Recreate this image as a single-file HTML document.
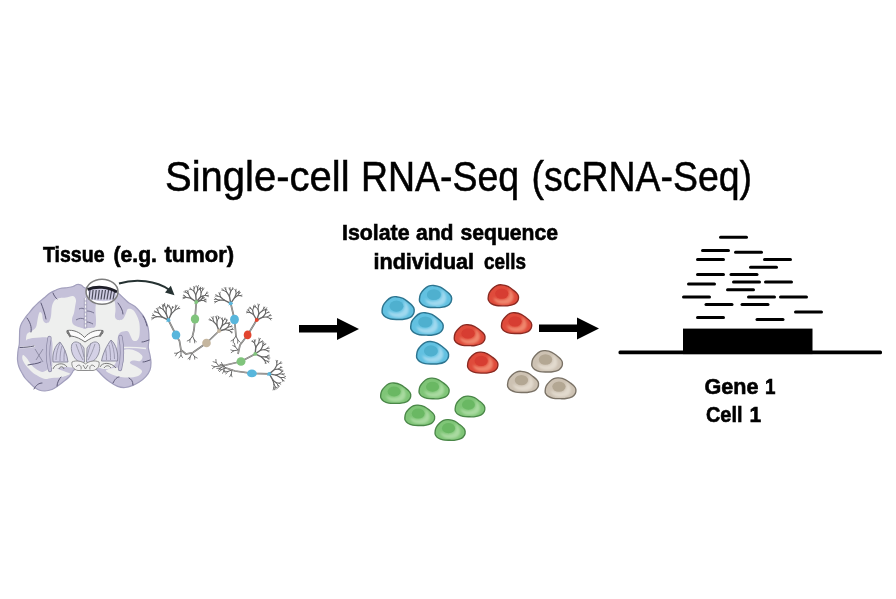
<!DOCTYPE html>
<html><head><meta charset="utf-8">
<style>
html,body{margin:0;padding:0;background:#fff;}
body{width:896px;height:599px;overflow:hidden;position:relative;font-family:"Liberation Sans",sans-serif;}
svg{position:absolute;left:0;top:0;filter:blur(0.45px);}
</style></head><body>
<svg width="896" height="599" viewBox="0 0 896 599">
<defs>
 <path id="cellp" d="M14.8,0.2 C16.9,0.4 19.7,1.0 21.8,2.0 C23.9,3.0 25.9,4.7 27.6,6.0 C29.3,7.3 30.9,8.7 31.8,9.9 C32.8,11.1 33.2,12.0 33.3,13.3 C33.4,14.6 33.3,16.3 32.6,17.6 C31.9,18.9 30.9,20.3 29.2,21.2 C27.5,22.1 24.8,22.8 22.6,23.1 C20.5,23.5 18.6,23.3 16.3,23.3 C14.0,23.3 11.1,23.4 9.0,22.9 C6.9,22.5 5.0,21.7 3.6,20.8 C2.2,19.9 1.2,18.5 0.6,17.4 C0.0,16.3 0.1,15.8 0.2,14.4 C0.3,13.0 0.5,10.9 1.3,9.2 C2.1,7.5 3.6,5.7 5.0,4.3 C6.4,2.9 7.9,1.7 9.5,1.0 C11.1,0.3 12.8,0.0 14.8,0.2 Z"/>
 <filter id="bl" x="-30%" y="-30%" width="160%" height="160%"><feGaussianBlur stdDeviation="1.3"/></filter>
 <filter id="bl2" x="-30%" y="-30%" width="160%" height="160%"><feGaussianBlur stdDeviation="0.5"/></filter>
 <clipPath id="cellclip"><use href="#cellp"/></clipPath>
 <g id="cellB">
  <use href="#cellp" fill="#62c1e1"/>
  <g clip-path="url(#cellclip)"><path d="M6,14 C7,20 13,22 19,21.5 C25,21 29,17 27.5,11 C26.5,7.5 24,5 22,4.5 C24,8 24,13 20,15.5 C16,17.5 10,17 6,14 Z" fill="#a0d9ef" filter="url(#bl)"/>
  <ellipse cx="15" cy="9.8" rx="7.2" ry="5.7" fill="#4fb0cf" filter="url(#bl2)"/></g>
  <use href="#cellp" fill="none" stroke="#2d7590" stroke-width="1.5"/>
 </g>
 <g id="cellR">
  <use href="#cellp" fill="#df4b3b"/>
  <g clip-path="url(#cellclip)"><path d="M6,14 C7,20 13,22 19,21.5 C25,21 29,17 27.5,11 C26.5,7.5 24,5 22,4.5 C24,8 24,13 20,15.5 C16,17.5 10,17 6,14 Z" fill="#ef866d" filter="url(#bl)"/>
  <ellipse cx="15" cy="9.8" rx="7.2" ry="5.7" fill="#d73d30" filter="url(#bl2)"/></g>
  <use href="#cellp" fill="none" stroke="#8a2a22" stroke-width="1.5"/>
 </g>
 <g id="cellT">
  <use href="#cellp" fill="#cdc2b3"/>
  <g clip-path="url(#cellclip)"><path d="M6,14 C7,20 13,22 19,21.5 C25,21 29,17 27.5,11 C26.5,7.5 24,5 22,4.5 C24,8 24,13 20,15.5 C16,17.5 10,17 6,14 Z" fill="#e2dace" filter="url(#bl)"/>
  <ellipse cx="15" cy="9.8" rx="7.2" ry="5.7" fill="#b3a793" filter="url(#bl2)"/></g>
  <use href="#cellp" fill="none" stroke="#7a7266" stroke-width="1.5"/>
 </g>
 <g id="cellG">
  <use href="#cellp" fill="#7fc577"/>
  <g clip-path="url(#cellclip)"><path d="M6,14 C7,20 13,22 19,21.5 C25,21 29,17 27.5,11 C26.5,7.5 24,5 22,4.5 C24,8 24,13 20,15.5 C16,17.5 10,17 6,14 Z" fill="#a9daa0" filter="url(#bl)"/>
  <ellipse cx="15" cy="9.8" rx="7.2" ry="5.7" fill="#6ab864" filter="url(#bl2)"/></g>
  <use href="#cellp" fill="none" stroke="#4a8748" stroke-width="1.5"/>
 </g>
</defs>

<text x="165.0" y="190.8" font-family="Liberation Sans" font-weight="normal" font-size="42.2" fill="#000" stroke="#000" stroke-width="0.50" textLength="184.6" lengthAdjust="spacingAndGlyphs">Single-cell</text>
<text x="361.0" y="190.8" font-family="Liberation Sans" font-weight="normal" font-size="42.2" fill="#000" stroke="#000" stroke-width="0.50" textLength="158.1" lengthAdjust="spacingAndGlyphs">RNA-Seq</text>
<text x="531.5" y="190.8" font-family="Liberation Sans" font-weight="normal" font-size="42.2" fill="#000" stroke="#000" stroke-width="0.50" textLength="220.5" lengthAdjust="spacingAndGlyphs">(scRNA-Seq)</text>
<text x="43.0" y="261.9" font-family="Liberation Sans" font-weight="bold" font-size="21.4" fill="#000" stroke="#000" stroke-width="0.60" textLength="61.5" lengthAdjust="spacingAndGlyphs">Tissue</text>
<text x="113.5" y="261.9" font-family="Liberation Sans" font-weight="bold" font-size="21.4" fill="#000" stroke="#000" stroke-width="0.60" textLength="43.5" lengthAdjust="spacingAndGlyphs">(e.g.</text>
<text x="164.5" y="261.9" font-family="Liberation Sans" font-weight="bold" font-size="21.4" fill="#000" stroke="#000" stroke-width="0.60" textLength="69.5" lengthAdjust="spacingAndGlyphs">tumor)</text>
<text x="342.0" y="239.8" font-family="Liberation Sans" font-weight="bold" font-size="21.4" fill="#000" stroke="#000" stroke-width="0.60" textLength="67.5" lengthAdjust="spacingAndGlyphs">Isolate</text>
<text x="416.0" y="239.8" font-family="Liberation Sans" font-weight="bold" font-size="21.4" fill="#000" stroke="#000" stroke-width="0.60" textLength="37.5" lengthAdjust="spacingAndGlyphs">and</text>
<text x="460.5" y="239.8" font-family="Liberation Sans" font-weight="bold" font-size="21.4" fill="#000" stroke="#000" stroke-width="0.60" textLength="97.5" lengthAdjust="spacingAndGlyphs">sequence</text>
<text x="373.5" y="268.9" font-family="Liberation Sans" font-weight="bold" font-size="21.4" fill="#000" stroke="#000" stroke-width="0.60" textLength="100.5" lengthAdjust="spacingAndGlyphs">individual</text>
<text x="484.0" y="268.9" font-family="Liberation Sans" font-weight="bold" font-size="21.4" fill="#000" stroke="#000" stroke-width="0.60" textLength="42.0" lengthAdjust="spacingAndGlyphs">cells</text>
<text x="704.5" y="394.4" font-family="Liberation Sans" font-weight="bold" font-size="22.2" fill="#000" stroke="#000" stroke-width="0.60" textLength="54.0" lengthAdjust="spacingAndGlyphs">Gene</text>
<text x="765.0" y="394.4" font-family="Liberation Sans" font-weight="bold" font-size="22.2" fill="#000" stroke="#000" stroke-width="0.60" textLength="10.5" lengthAdjust="spacingAndGlyphs">1</text>
<text x="706.0" y="422.2" font-family="Liberation Sans" font-weight="bold" font-size="22.2" fill="#000" stroke="#000" stroke-width="0.60" textLength="36.5" lengthAdjust="spacingAndGlyphs">Cell</text>
<text x="749.5" y="422.2" font-family="Liberation Sans" font-weight="bold" font-size="22.2" fill="#000" stroke="#000" stroke-width="0.60" textLength="11.7" lengthAdjust="spacingAndGlyphs">1</text>

<!-- arrows -->
<path d="M299,325 L337,325 L337,318 L359,329 L337,340 L337,332.5 L299,332.5 Z" fill="#000"/>
<path d="M539,324.5 L577,324.5 L577,317.5 L599,328.5 L577,339.5 L577,332 L539,332 Z" fill="#000"/>

<!-- gene -->
<rect x="618.5" y="350.5" width="263.5" height="3.8" rx="1.5" fill="#000"/>
<rect x="683" y="328.6" width="129.5" height="25.5" fill="#000"/>
<g stroke="#000" stroke-width="3" stroke-linecap="round">
<line x1="720.5" y1="237.3" x2="746.5" y2="237.3"/>
<line x1="702.5" y1="250.5" x2="728.5" y2="250.5"/>
<line x1="735.5" y1="252.2" x2="761.5" y2="252.2"/>
<line x1="697.5" y1="259.5" x2="723.5" y2="259.5"/>
<line x1="764.5" y1="259.5" x2="790.5" y2="259.5"/>
<line x1="750.5" y1="267.2" x2="776.5" y2="267.2"/>
<line x1="697.5" y1="274.6" x2="723.5" y2="274.6"/>
<line x1="731" y1="274.6" x2="757" y2="274.6"/>
<line x1="733.5" y1="282.1" x2="759.5" y2="282.1"/>
<line x1="765.5" y1="282.1" x2="791.5" y2="282.1"/>
<line x1="688.5" y1="284.1" x2="714.5" y2="284.1"/>
<line x1="727.5" y1="289.7" x2="753.5" y2="289.7"/>
<line x1="683.5" y1="297" x2="709.5" y2="297"/>
<line x1="748.5" y1="297" x2="774.5" y2="297"/>
<line x1="780.5" y1="297" x2="806.5" y2="297"/>
<line x1="706" y1="304.5" x2="732" y2="304.5"/>
<line x1="742" y1="304.5" x2="768" y2="304.5"/>
<line x1="795.5" y1="311.9" x2="821.5" y2="311.9"/>
<line x1="697.5" y1="317.4" x2="723.5" y2="317.4"/>
<line x1="757" y1="319.6" x2="783" y2="319.6"/>
</g>

<path d="M84.0,287.5 C83.2,287.0 82.2,285.5 81.0,285.0 C79.8,284.5 78.3,284.2 77.0,284.5 C75.7,284.8 74.5,286.0 73.0,286.5 C71.5,287.0 70.2,287.2 68.0,287.5 C65.8,287.8 62.2,288.0 60.0,288.5 C57.8,289.0 56.7,289.8 55.0,290.5 C53.3,291.2 51.8,291.8 50.0,293.0 C48.2,294.2 46.0,296.3 44.0,298.0 C42.0,299.7 39.8,301.3 38.0,303.0 C36.2,304.7 34.5,306.3 33.0,308.0 C31.5,309.7 30.3,311.3 29.0,313.0 C27.7,314.7 26.2,316.2 25.0,318.0 C23.8,319.8 22.4,321.7 21.5,323.5 C20.6,325.3 20.1,326.8 19.8,329.0 C19.5,331.2 19.6,334.5 19.5,337.0 C19.4,339.5 19.5,342.0 19.3,344.0 C19.1,346.0 18.6,347.5 18.3,349.0 C18.1,350.5 17.9,351.2 17.8,353.0 C17.7,354.8 17.3,357.7 17.5,360.0 C17.7,362.3 18.2,364.8 19.0,367.0 C19.8,369.2 21.0,371.2 22.0,373.0 C23.0,374.8 23.7,376.3 25.0,378.0 C26.3,379.7 28.5,381.5 30.0,383.0 C31.5,384.5 32.5,385.8 34.0,387.0 C35.5,388.2 37.2,389.3 39.0,390.0 C40.8,390.7 42.8,391.1 45.0,391.0 C47.2,390.9 50.0,390.2 52.0,389.5 C54.0,388.8 55.2,387.8 57.0,386.5 C58.8,385.2 61.0,383.6 63.0,382.0 C65.0,380.4 67.5,378.5 69.0,377.0 C70.5,375.5 71.2,374.2 72.0,373.0 C72.8,371.8 72.8,370.7 74.0,370.0 C75.2,369.3 77.2,369.0 79.0,369.0 C80.8,369.0 83.0,370.0 85.0,370.0 C87.0,370.0 89.2,369.1 91.0,369.0 C92.8,368.9 94.8,369.1 96.0,369.5 C97.2,369.9 97.2,370.3 98.5,371.5 C99.8,372.7 101.6,374.9 103.5,376.7 C105.4,378.5 107.7,380.5 110.0,382.1 C112.3,383.7 115.1,385.5 117.6,386.4 C120.1,387.3 122.7,387.7 125.2,387.5 C127.7,387.3 130.5,386.3 132.8,385.4 C135.2,384.5 137.1,383.6 139.3,382.1 C141.5,380.7 144.0,378.7 145.8,376.7 C147.6,374.7 149.1,372.4 150.0,370.0 C150.9,367.6 151.0,365.1 151.0,362.6 C151.0,360.1 150.4,357.5 150.0,355.0 C149.6,352.5 148.5,350.1 148.3,347.4 C148.1,344.7 149.0,341.6 149.0,338.7 C149.0,335.8 148.8,332.4 148.5,330.0 C148.2,327.6 147.7,326.0 147.0,324.0 C146.3,322.0 145.5,319.8 144.5,318.0 C143.5,316.2 142.6,314.9 141.0,313.0 C139.4,311.1 137.0,308.2 135.0,306.5 C133.0,304.8 130.8,304.2 129.0,303.0 C127.2,301.8 126.3,300.7 124.5,299.0 C122.7,297.3 120.1,294.7 118.0,293.0 C115.9,291.3 114.3,289.9 112.0,289.0 C109.7,288.1 106.7,287.8 104.0,287.5 C101.3,287.2 98.3,287.1 96.0,287.0 C93.7,286.9 91.7,286.8 90.0,287.0 C88.3,287.2 87.0,287.9 86.0,288.0 C85.0,288.1 84.8,288.0 84.0,287.5 Z" fill="#c5c1d9" stroke="#a29fbd" stroke-width="1.2"/>
<path d="M26.0,341.0 C26.0,340.1 26.0,335.7 27.0,334.0 C28.0,332.3 30.5,332.2 32.0,331.0 C33.5,329.8 35.1,328.8 36.0,327.0 C36.9,325.2 37.1,322.0 37.5,320.0 C37.9,318.0 38.1,316.3 38.5,315.0 C38.9,313.7 39.4,312.2 40.0,312.0 C40.6,311.8 41.5,312.7 42.0,314.0 C42.5,315.3 42.4,318.5 43.0,320.0 C43.6,321.5 44.5,322.7 45.5,323.0 C46.5,323.3 48.1,323.2 49.0,322.0 C49.9,320.8 50.5,318.7 51.0,316.0 C51.5,313.3 51.3,308.7 52.0,306.0 C52.7,303.3 53.7,301.3 55.0,300.0 C56.3,298.7 58.2,298.4 60.0,298.0 C61.8,297.6 63.8,297.8 66.0,297.5 C68.2,297.2 71.3,295.6 73.0,296.0 C74.7,296.4 75.7,298.2 76.0,300.0 C76.3,301.8 75.3,304.8 75.0,307.0 C74.7,309.2 74.5,311.0 74.0,313.0 C73.5,315.0 72.2,317.2 72.0,319.0 C71.8,320.8 72.2,322.8 73.0,324.0 C73.8,325.2 75.5,325.8 77.0,326.5 C78.5,327.2 80.7,327.6 82.0,328.0 C83.3,328.4 84.0,329.0 85.0,329.0 C86.0,329.0 86.3,328.3 88.0,328.0 C89.7,327.7 93.7,328.3 95.0,327.0 C96.3,325.7 95.9,322.5 96.0,320.0 C96.1,317.5 95.5,314.7 95.5,312.0 C95.5,309.3 95.4,306.0 96.0,304.0 C96.6,302.0 97.2,300.8 99.0,300.0 C100.8,299.2 104.5,299.4 107.0,299.5 C109.5,299.6 112.6,298.9 114.0,300.5 C115.4,302.1 115.3,306.2 115.5,309.0 C115.7,311.8 114.6,315.2 115.0,317.0 C115.4,318.8 116.7,319.7 118.0,320.0 C119.3,320.3 121.7,320.2 123.0,319.0 C124.3,317.8 125.2,314.7 126.0,313.0 C126.8,311.3 126.8,309.5 128.0,309.0 C129.2,308.5 131.5,308.8 133.0,310.0 C134.5,311.2 135.9,313.7 137.0,316.0 C138.1,318.3 139.1,320.8 139.5,324.0 C139.9,327.2 139.9,332.2 139.5,335.0 C139.1,337.8 138.1,339.6 137.0,340.5 C135.9,341.4 134.1,341.2 133.0,340.5 C131.9,339.8 131.3,337.5 130.5,336.0 C129.7,334.5 129.2,332.2 128.0,331.5 C126.8,330.8 124.5,331.1 123.0,331.5 C121.5,331.9 119.9,332.6 119.0,334.0 C118.1,335.4 117.8,337.0 117.5,340.0 C117.2,343.0 117.2,348.3 117.0,352.0 C116.8,355.7 117.0,359.3 116.0,362.0 C115.0,364.7 113.0,366.8 111.0,368.0 C109.0,369.2 106.3,369.1 104.0,369.0 C101.7,368.9 100.2,367.7 97.0,367.5 C93.8,367.3 89.0,368.0 85.0,368.0 C81.0,368.0 76.5,367.7 73.0,367.5 C69.5,367.3 66.8,366.8 64.0,367.0 C61.2,367.2 57.9,368.7 56.0,369.0 C54.1,369.3 53.1,371.3 52.5,369.0 C51.9,366.7 52.6,359.7 52.5,355.0 C52.4,350.3 52.9,343.9 52.0,341.0 C51.1,338.1 49.0,338.1 47.0,337.5 C45.0,336.9 42.3,337.4 40.0,337.5 C37.7,337.6 35.2,337.7 33.0,338.0 C30.8,338.3 28.2,339.0 27.0,339.5 C25.8,340.0 26.0,341.9 26.0,341.0 Z" fill="#eeefee"/>
<path d="M124.0,350.0 C125.2,349.1 128.7,349.2 131.0,349.5 C133.3,349.8 136.1,350.8 138.0,352.0 C139.9,353.2 142.2,355.0 142.5,356.5 C142.8,358.0 141.6,360.3 140.0,361.0 C138.4,361.7 134.7,360.2 133.0,360.5 C131.3,360.8 129.3,361.9 130.0,363.0 C130.7,364.1 135.0,365.7 137.0,367.0 C139.0,368.3 141.7,369.6 142.0,371.0 C142.3,372.4 140.8,374.4 139.0,375.5 C137.2,376.6 134.0,377.2 131.0,377.5 C128.0,377.8 124.2,377.5 121.0,377.0 C117.8,376.5 114.5,375.6 112.0,374.5 C109.5,373.4 105.8,371.6 106.0,370.5 C106.2,369.4 110.7,368.6 113.0,368.0 C115.3,367.4 118.2,368.0 120.0,367.0 C121.8,366.0 122.9,364.0 123.5,362.0 C124.1,360.0 123.4,357.0 123.5,355.0 C123.6,353.0 122.8,350.9 124.0,350.0 Z" fill="#eeefee"/>
<path d="M23.0,355.0 C23.8,354.8 25.7,356.9 27.0,358.5 C28.3,360.1 29.5,362.8 31.0,364.5 C32.5,366.2 34.2,367.8 36.0,369.0 C37.8,370.2 40.2,371.8 42.0,372.0 C43.8,372.2 45.3,371.0 47.0,370.0 C48.7,369.0 50.2,366.2 52.0,366.0 C53.8,365.8 55.7,368.0 58.0,369.0 C60.3,370.0 64.0,371.2 66.0,372.0 C68.0,372.8 70.7,373.2 70.0,374.0 C69.3,374.8 65.0,376.3 62.0,377.0 C59.0,377.7 54.8,377.7 52.0,378.0 C49.2,378.3 47.3,379.3 45.0,379.0 C42.7,378.7 40.2,377.2 38.0,376.0 C35.8,374.8 34.0,373.8 32.0,372.0 C30.0,370.2 27.6,367.6 26.0,365.5 C24.4,363.4 23.0,361.2 22.5,359.5 C22.0,357.8 22.2,355.2 23.0,355.0 Z" fill="#eeefee"/>
<path d="M124,347.5 C130,347 138,347.5 146,348.5" stroke="#eeefee" stroke-width="1.3" fill="none"/>
<path d="M20,347.5 C25,347.5 31,347 35,346" stroke="#eeefee" stroke-width="1.3" fill="none"/>
<path d="M85.5,298 L85.5,328" stroke="#f4f4f4" stroke-width="1.6" stroke-dasharray="2.2,1.6"/>
<path d="M84.3,298 L84.3,328 M86.7,298 L86.7,328" stroke="#8a88a2" stroke-width="0.5"/>
<g stroke="#6b6986" stroke-width="0.9" fill="none"><path d="M76,320 C79,318 82,318 84,319"/><path d="M79,309 C81,308 83,308 84,309"/><path d="M87,311 C90,311 92,312 94,313"/><path d="M87,322 C89,322 91,323 93,324"/></g>
<path d="M67,330.5 C73,329.5 80,332 84.5,337.5 C89,332 96,329.5 103,330.5 C103.5,333 102,335.5 99,336 C94,336.5 89,339 85,342 C81,339 76,336.5 71,336 C68,335.5 66.5,333 67,330.5 Z" fill="#fbfbfb" stroke="#6f6f6f" stroke-width="1"/>
<path d="M67.5,331 L70.5,337 M102.5,331 L99.5,336.5" stroke="#777" stroke-width="2" fill="none"/>
<path d="M72,344 C75,340 80,342 84,348 L84.5,362 C80,364 75,360 72.5,354 C71,350 71,347 72,344 Z" fill="#d4d1e6" stroke="#8a8a9a" stroke-width="0.9"/>
<path d="M99,344 C96,340 91,342 87,348 L86.5,362 C91,364 96,360 98.5,354 C100,350 100,347 99,344 Z" fill="#d4d1e6" stroke="#8a8a9a" stroke-width="0.9"/>
<path d="M76,344 C78,350 80,355 83,360 M80,343 C82,348 83,353 84,357 M95,344 C93,350 91,355 88,360 M91,343 C89,348 88,353 87,357" stroke="#8f8fa0" stroke-width="0.8" fill="none"/>
<path d="M72,362 C76,360 82,361 85.5,364 C89,361 95,360 99,362 C100,366 97,370 93,370.5 L78,370.5 C74,370 71,366 72,362 Z" fill="#f2f2f2" stroke="#777" stroke-width="0.8"/>
<path d="M76,367 C79,363 82,366 81,369.5 M90,369.5 C89,366 92,363 95,367 M83,365 L85.5,369 L88,365" stroke="#6f6f6f" stroke-width="0.8" fill="none"/>
<path d="M53,362 C52,354 55,345 60,342 C64,347 67,354 68,362 Z" fill="#d0cde4" stroke="#858399" stroke-width="0.9"/>
<path d="M117.5,361 C118.5,353 116,344 111,340 C107,345 103,353 101.5,361 Z" fill="#d0cde4" stroke="#858399" stroke-width="0.9"/>
<path d="M56,360 C56,353 58,347 60,343 M60,361 C60,354 61,349 62,346 M64,361 C64,356 64,352 65,350 M114.5,359 C114.5,352 113,346 111,341 M110.5,360 C110.5,353 110,348 109,345 M106.5,360 C106.5,355 106,351 105.5,349" stroke="#8c8aa0" stroke-width="0.75" fill="none"/>
<path d="M49.5,338 C47.5,348 47.5,360 50,370" stroke="#8a87a4" stroke-width="4.2" fill="none" stroke-linecap="round"/>
<path d="M49.5,338 C47.5,348 47.5,360 50,370" stroke="#c5c1d9" stroke-width="2.8" fill="none" stroke-linecap="round"/>
<path d="M120.5,337 C122.5,347 122.5,359 120,369" stroke="#8a87a4" stroke-width="4.2" fill="none" stroke-linecap="round"/>
<path d="M120.5,337 C122.5,347 122.5,359 120,369" stroke="#c5c1d9" stroke-width="2.8" fill="none" stroke-linecap="round"/>
<path d="M53,369 C55,363 64,362 67,367 M59,369 C60,366 63,366 64,369 M100,367 C102,362 111,362 116,368 M104,368 C106,365 109,365 111,368" stroke="#6f6f6f" stroke-width="0.9" fill="none"/>
<path d="M35,349 L43,362 M43,349 L36,360" stroke="#7a7890" stroke-width="0.7" fill="none"/>
<g stroke="#5e5b78" stroke-width="1" fill="none" stroke-linecap="round"><path d="M27,318 C30,322 32,327 31,332"/><path d="M41,303 C43,308 45,314 46,319"/><path d="M53,293 C54,296 56,298 57,299"/><path d="M28,365 C32,364 37,364 41,362"/><path d="M34,389 C36,385 39,383 42,383"/><path d="M57,386 C57,383 59,379 61,377"/><path d="M118,303 C121,307 123,311 123,314"/><path d="M143,316 C145,319 146,322 147,326"/><path d="M149,340 C146,341 144,342 142,342"/><path d="M150,360 C147,361 145,362 143,362"/><path d="M133,385 C133,381 131,379 129,378"/><path d="M113,383 C115,379 117,377 119,377"/><path d="M20,347.5 C24,347.5 30,347 34,346"/></g>
<ellipse cx="102" cy="292" rx="15.5" ry="12" fill="#fff"/>
<path d="M88,290 C96,287 108,287.5 116.5,292 L115.5,299 C110,302 94,302 89,298 Z" fill="#cfcce3"/>
<g stroke="#4a4a5a" stroke-width="1.2"><path d="M90.0,290 L89.0,299.5"/><path d="M93.1,290 L92.0,299.5"/><path d="M96.2,290 L95.0,299.5"/><path d="M99.3,290 L98.0,299.5"/><path d="M102.4,290 L101.0,299.5"/><path d="M105.5,290 L104.0,299.5"/><path d="M108.6,290 L107.0,299.5"/><path d="M111.7,290 L110.0,299.5"/><path d="M114.8,290 L113.0,299.5"/></g>
<path d="M87.5,289.5 C96,286 108,286.5 117,292" stroke="#1e1e28" stroke-width="2.8" fill="none"/>
<ellipse cx="102" cy="291.8" rx="16" ry="12.5" fill="none" stroke="#7d7d7d" stroke-width="1.5"/>
<path d="M119,283.5 C136,278.5 156,280.5 169.5,290" stroke="#263232" stroke-width="2.1" fill="none"/>
<path d="M165,292.5 L174.5,295.3 L170.8,285.8 Z" fill="#263232"/>
<g stroke="#666666" stroke-linecap="round"><line x1="168.4" y1="320.0" x2="161.9" y2="316.9" stroke-width="1.40"/><line x1="161.9" y1="316.9" x2="156.6" y2="316.7" stroke-width="1.20"/><line x1="156.6" y1="316.7" x2="153.5" y2="318.0" stroke-width="1.00"/><line x1="153.5" y1="318.0" x2="151.8" y2="319.5" stroke-width="0.85"/><line x1="153.5" y1="318.0" x2="151.5" y2="317.9" stroke-width="0.85"/><line x1="156.6" y1="316.7" x2="154.0" y2="315.6" stroke-width="1.00"/><line x1="154.0" y1="315.6" x2="152.3" y2="315.6" stroke-width="0.85"/><line x1="154.0" y1="315.6" x2="152.8" y2="313.8" stroke-width="0.85"/><line x1="161.9" y1="316.9" x2="158.8" y2="313.2" stroke-width="1.20"/><line x1="158.8" y1="313.2" x2="156.0" y2="312.0" stroke-width="1.00"/><line x1="156.0" y1="312.0" x2="154.2" y2="312.0" stroke-width="0.85"/><line x1="156.0" y1="312.0" x2="154.4" y2="310.9" stroke-width="0.85"/><line x1="158.8" y1="313.2" x2="157.7" y2="310.1" stroke-width="1.00"/><line x1="157.7" y1="310.1" x2="156.3" y2="308.4" stroke-width="0.85"/><line x1="157.7" y1="310.1" x2="158.0" y2="307.9" stroke-width="0.85"/><line x1="168.4" y1="320.0" x2="166.1" y2="313.6" stroke-width="1.40"/><line x1="166.1" y1="313.6" x2="163.2" y2="309.5" stroke-width="1.20"/><line x1="163.2" y1="309.5" x2="160.6" y2="308.0" stroke-width="1.00"/><line x1="160.6" y1="308.0" x2="158.9" y2="307.8" stroke-width="0.85"/><line x1="160.6" y1="308.0" x2="159.5" y2="306.4" stroke-width="0.85"/><line x1="163.2" y1="309.5" x2="163.0" y2="306.4" stroke-width="1.00"/><line x1="163.0" y1="306.4" x2="162.3" y2="304.9" stroke-width="0.85"/><line x1="163.0" y1="306.4" x2="163.9" y2="304.4" stroke-width="0.85"/><line x1="166.1" y1="313.6" x2="166.2" y2="308.6" stroke-width="1.20"/><line x1="166.2" y1="308.6" x2="164.7" y2="305.7" stroke-width="1.00"/><line x1="164.7" y1="305.7" x2="163.1" y2="304.7" stroke-width="0.85"/><line x1="164.7" y1="305.7" x2="164.6" y2="303.3" stroke-width="0.85"/><line x1="166.2" y1="308.6" x2="167.5" y2="306.1" stroke-width="1.00"/><line x1="167.5" y1="306.1" x2="167.6" y2="304.6" stroke-width="0.85"/><line x1="167.5" y1="306.1" x2="168.9" y2="305.2" stroke-width="0.85"/><line x1="168.4" y1="320.0" x2="171.3" y2="313.8" stroke-width="1.40"/><line x1="171.3" y1="313.8" x2="171.2" y2="309.9" stroke-width="1.20"/><line x1="171.2" y1="309.9" x2="169.9" y2="307.6" stroke-width="1.00"/><line x1="169.9" y1="307.6" x2="168.6" y2="306.7" stroke-width="0.85"/><line x1="169.9" y1="307.6" x2="169.4" y2="305.8" stroke-width="0.85"/><line x1="171.2" y1="309.9" x2="172.4" y2="307.8" stroke-width="1.00"/><line x1="172.4" y1="307.8" x2="172.4" y2="306.4" stroke-width="0.85"/><line x1="172.4" y1="307.8" x2="173.9" y2="307.1" stroke-width="0.85"/><line x1="171.3" y1="313.8" x2="174.7" y2="310.3" stroke-width="1.20"/><line x1="174.7" y1="310.3" x2="175.9" y2="307.0" stroke-width="1.00"/><line x1="175.9" y1="307.0" x2="175.7" y2="305.1" stroke-width="0.85"/><line x1="175.9" y1="307.0" x2="177.2" y2="305.2" stroke-width="0.85"/><line x1="174.7" y1="310.3" x2="177.7" y2="308.7" stroke-width="1.00"/><line x1="177.7" y1="308.7" x2="179.1" y2="306.8" stroke-width="0.85"/><line x1="177.7" y1="308.7" x2="179.8" y2="308.5" stroke-width="0.85"/></g>
<g stroke="#666666" stroke-linecap="round"><line x1="181.0" y1="351.0" x2="181.0" y2="355.5" stroke-width="1.00"/><line x1="181.0" y1="355.5" x2="182.6" y2="357.6" stroke-width="0.85"/><line x1="181.0" y1="355.5" x2="179.0" y2="358.0" stroke-width="0.85"/><line x1="181.0" y1="351.0" x2="177.1" y2="353.2" stroke-width="1.00"/><line x1="177.1" y1="353.2" x2="175.6" y2="355.9" stroke-width="0.85"/><line x1="177.1" y1="353.2" x2="174.5" y2="353.2" stroke-width="0.85"/></g>
<g stroke="#666666" stroke-linecap="round"><line x1="192.0" y1="353.0" x2="194.6" y2="356.7" stroke-width="1.00"/><line x1="194.6" y1="356.7" x2="197.2" y2="358.0" stroke-width="0.85"/><line x1="194.6" y1="356.7" x2="194.7" y2="359.2" stroke-width="0.85"/><line x1="192.0" y1="353.0" x2="190.1" y2="357.1" stroke-width="1.00"/><line x1="190.1" y1="357.1" x2="189.7" y2="359.7" stroke-width="0.85"/><line x1="190.1" y1="357.1" x2="188.0" y2="358.8" stroke-width="0.85"/></g>
<path d="M168.4,320.0 L176.0,335.0 L179.5,341.0 L181.0,350.0 L186.0,354.0 L193.0,352.5 L206.5,343.0" fill="none" stroke="#707070" stroke-width="1.7"/>
<path d="M168.4,320.0 L176.0,335.0 L179.5,341.0 L181.0,350.0 L186.0,354.0 L193.0,352.5 L206.5,343.0" fill="none" stroke="#c8c4c0" stroke-width="0.6"/>
<g stroke="#666666" stroke-linecap="round"><line x1="196.3" y1="302.0" x2="190.7" y2="298.1" stroke-width="1.40"/><line x1="190.7" y1="298.1" x2="186.7" y2="297.5" stroke-width="1.20"/><line x1="186.7" y1="297.5" x2="184.5" y2="297.8" stroke-width="1.00"/><line x1="184.5" y1="297.8" x2="183.0" y2="298.6" stroke-width="0.85"/><line x1="184.5" y1="297.8" x2="183.1" y2="297.5" stroke-width="0.85"/><line x1="186.7" y1="297.5" x2="184.8" y2="296.1" stroke-width="1.00"/><line x1="184.8" y1="296.1" x2="183.3" y2="295.7" stroke-width="0.85"/><line x1="184.8" y1="296.1" x2="183.9" y2="295.0" stroke-width="0.85"/><line x1="190.7" y1="298.1" x2="188.5" y2="294.2" stroke-width="1.20"/><line x1="188.5" y1="294.2" x2="186.0" y2="292.3" stroke-width="1.00"/><line x1="186.0" y1="292.3" x2="183.9" y2="291.9" stroke-width="0.85"/><line x1="186.0" y1="292.3" x2="185.3" y2="290.6" stroke-width="0.85"/><line x1="188.5" y1="294.2" x2="187.9" y2="291.9" stroke-width="1.00"/><line x1="187.9" y1="291.9" x2="186.7" y2="290.5" stroke-width="0.85"/><line x1="187.9" y1="291.9" x2="188.0" y2="290.3" stroke-width="0.85"/><line x1="196.3" y1="302.0" x2="195.7" y2="294.8" stroke-width="1.40"/><line x1="195.7" y1="294.8" x2="193.8" y2="290.9" stroke-width="1.20"/><line x1="193.8" y1="290.9" x2="191.3" y2="289.5" stroke-width="1.00"/><line x1="191.3" y1="289.5" x2="189.4" y2="289.2" stroke-width="0.85"/><line x1="191.3" y1="289.5" x2="190.3" y2="287.8" stroke-width="0.85"/><line x1="193.8" y1="290.9" x2="194.2" y2="288.2" stroke-width="1.00"/><line x1="194.2" y1="288.2" x2="193.8" y2="286.4" stroke-width="0.85"/><line x1="194.2" y1="288.2" x2="195.2" y2="286.7" stroke-width="0.85"/><line x1="195.7" y1="294.8" x2="197.6" y2="290.5" stroke-width="1.20"/><line x1="197.6" y1="290.5" x2="197.4" y2="287.4" stroke-width="1.00"/><line x1="197.4" y1="287.4" x2="196.3" y2="285.7" stroke-width="0.85"/><line x1="197.4" y1="287.4" x2="198.5" y2="285.5" stroke-width="0.85"/><line x1="197.6" y1="290.5" x2="199.9" y2="288.7" stroke-width="1.00"/><line x1="199.9" y1="288.7" x2="200.7" y2="287.1" stroke-width="0.85"/><line x1="199.9" y1="288.7" x2="201.5" y2="288.5" stroke-width="0.85"/><line x1="196.3" y1="302.0" x2="200.7" y2="296.8" stroke-width="1.40"/><line x1="200.7" y1="296.8" x2="201.2" y2="292.3" stroke-width="1.20"/><line x1="201.2" y1="292.3" x2="200.2" y2="289.5" stroke-width="1.00"/><line x1="200.2" y1="289.5" x2="198.7" y2="287.9" stroke-width="0.85"/><line x1="200.2" y1="289.5" x2="200.2" y2="287.8" stroke-width="0.85"/><line x1="201.2" y1="292.3" x2="202.7" y2="289.7" stroke-width="1.00"/><line x1="202.7" y1="289.7" x2="202.7" y2="287.5" stroke-width="0.85"/><line x1="202.7" y1="289.7" x2="204.1" y2="288.5" stroke-width="0.85"/><line x1="200.7" y1="296.8" x2="204.6" y2="295.5" stroke-width="1.20"/><line x1="204.6" y1="295.5" x2="206.3" y2="293.6" stroke-width="1.00"/><line x1="206.3" y1="293.6" x2="207.0" y2="291.9" stroke-width="0.85"/><line x1="206.3" y1="293.6" x2="207.9" y2="292.9" stroke-width="0.85"/><line x1="204.6" y1="295.5" x2="206.9" y2="295.7" stroke-width="1.00"/><line x1="206.9" y1="295.7" x2="208.5" y2="295.3" stroke-width="0.85"/><line x1="206.9" y1="295.7" x2="208.4" y2="296.6" stroke-width="0.85"/><line x1="196.3" y1="302.0" x2="200.3" y2="300.5" stroke-width="1.40"/><line x1="200.3" y1="300.5" x2="202.1" y2="298.6" stroke-width="1.20"/><line x1="202.1" y1="298.6" x2="202.6" y2="297.0" stroke-width="1.00"/><line x1="202.6" y1="297.0" x2="202.5" y2="296.0" stroke-width="0.85"/><line x1="202.6" y1="297.0" x2="203.6" y2="296.2" stroke-width="0.85"/><line x1="202.1" y1="298.6" x2="203.5" y2="298.0" stroke-width="1.00"/><line x1="203.5" y1="298.0" x2="204.1" y2="297.4" stroke-width="0.85"/><line x1="203.5" y1="298.0" x2="204.5" y2="297.9" stroke-width="0.85"/><line x1="200.3" y1="300.5" x2="203.3" y2="300.5" stroke-width="1.20"/><line x1="203.3" y1="300.5" x2="204.9" y2="299.7" stroke-width="1.00"/><line x1="204.9" y1="299.7" x2="205.8" y2="299.0" stroke-width="0.85"/><line x1="204.9" y1="299.7" x2="206.0" y2="299.5" stroke-width="0.85"/><line x1="203.3" y1="300.5" x2="205.0" y2="301.2" stroke-width="1.00"/><line x1="205.0" y1="301.2" x2="206.3" y2="301.1" stroke-width="0.85"/><line x1="205.0" y1="301.2" x2="205.8" y2="302.2" stroke-width="0.85"/></g>
<g stroke="#666666" stroke-linecap="round"><line x1="192.5" y1="336.0" x2="194.4" y2="340.1" stroke-width="1.00"/><line x1="194.4" y1="340.1" x2="196.4" y2="341.7" stroke-width="0.85"/><line x1="194.4" y1="340.1" x2="194.7" y2="342.9" stroke-width="0.85"/><line x1="192.5" y1="336.0" x2="189.9" y2="339.7" stroke-width="1.00"/><line x1="189.9" y1="339.7" x2="189.9" y2="342.4" stroke-width="0.85"/><line x1="189.9" y1="339.7" x2="187.2" y2="341.0" stroke-width="0.85"/></g>
<path d="M196.3,302.0 L195.0,319.0 L194.0,330.0 L192.5,336.0" fill="none" stroke="#707070" stroke-width="1.7"/>
<path d="M196.3,302.0 L195.0,319.0 L194.0,330.0 L192.5,336.0" fill="none" stroke="#c8c4c0" stroke-width="0.6"/>
<g stroke="#666666" stroke-linecap="round"><line x1="219.0" y1="331.0" x2="216.8" y2="325.0" stroke-width="1.40"/><line x1="216.8" y1="325.0" x2="213.8" y2="321.8" stroke-width="1.20"/><line x1="213.8" y1="321.8" x2="211.1" y2="320.3" stroke-width="1.00"/><line x1="211.1" y1="320.3" x2="209.0" y2="319.8" stroke-width="0.85"/><line x1="211.1" y1="320.3" x2="209.6" y2="318.9" stroke-width="0.85"/><line x1="213.8" y1="321.8" x2="212.9" y2="318.8" stroke-width="1.00"/><line x1="212.9" y1="318.8" x2="211.4" y2="317.0" stroke-width="0.85"/><line x1="212.9" y1="318.8" x2="213.2" y2="316.5" stroke-width="0.85"/><line x1="216.8" y1="325.0" x2="217.1" y2="320.8" stroke-width="1.20"/><line x1="217.1" y1="320.8" x2="216.4" y2="317.9" stroke-width="1.00"/><line x1="216.4" y1="317.9" x2="215.3" y2="316.5" stroke-width="0.85"/><line x1="216.4" y1="317.9" x2="217.0" y2="315.8" stroke-width="0.85"/><line x1="217.1" y1="320.8" x2="218.5" y2="318.4" stroke-width="1.00"/><line x1="218.5" y1="318.4" x2="218.6" y2="316.4" stroke-width="0.85"/><line x1="218.5" y1="318.4" x2="220.0" y2="317.6" stroke-width="0.85"/><line x1="219.0" y1="331.0" x2="222.2" y2="325.5" stroke-width="1.40"/><line x1="222.2" y1="325.5" x2="222.8" y2="321.4" stroke-width="1.20"/><line x1="222.8" y1="321.4" x2="222.2" y2="319.2" stroke-width="1.00"/><line x1="222.2" y1="319.2" x2="220.9" y2="318.2" stroke-width="0.85"/><line x1="222.2" y1="319.2" x2="222.3" y2="317.8" stroke-width="0.85"/><line x1="222.8" y1="321.4" x2="224.4" y2="319.6" stroke-width="1.00"/><line x1="224.4" y1="319.6" x2="224.9" y2="318.0" stroke-width="0.85"/><line x1="224.4" y1="319.6" x2="225.8" y2="318.9" stroke-width="0.85"/><line x1="222.2" y1="325.5" x2="225.6" y2="323.2" stroke-width="1.20"/><line x1="225.6" y1="323.2" x2="226.5" y2="321.0" stroke-width="1.00"/><line x1="226.5" y1="321.0" x2="226.3" y2="319.4" stroke-width="0.85"/><line x1="226.5" y1="321.0" x2="227.6" y2="320.0" stroke-width="0.85"/><line x1="225.6" y1="323.2" x2="228.2" y2="323.2" stroke-width="1.00"/><line x1="228.2" y1="323.2" x2="229.9" y2="322.4" stroke-width="0.85"/><line x1="228.2" y1="323.2" x2="229.6" y2="323.9" stroke-width="0.85"/><line x1="219.0" y1="331.0" x2="224.7" y2="329.5" stroke-width="1.40"/><line x1="224.7" y1="329.5" x2="227.9" y2="327.2" stroke-width="1.20"/><line x1="227.9" y1="327.2" x2="228.9" y2="325.0" stroke-width="1.00"/><line x1="228.9" y1="325.0" x2="229.0" y2="323.6" stroke-width="0.85"/><line x1="228.9" y1="325.0" x2="230.2" y2="324.1" stroke-width="0.85"/><line x1="227.9" y1="327.2" x2="230.5" y2="326.6" stroke-width="1.00"/><line x1="230.5" y1="326.6" x2="231.9" y2="325.5" stroke-width="0.85"/><line x1="230.5" y1="326.6" x2="232.2" y2="326.8" stroke-width="0.85"/><line x1="224.7" y1="329.5" x2="229.0" y2="330.3" stroke-width="1.20"/><line x1="229.0" y1="330.3" x2="231.6" y2="329.4" stroke-width="1.00"/><line x1="231.6" y1="329.4" x2="233.0" y2="328.1" stroke-width="0.85"/><line x1="231.6" y1="329.4" x2="233.3" y2="329.5" stroke-width="0.85"/><line x1="229.0" y1="330.3" x2="231.0" y2="331.8" stroke-width="1.00"/><line x1="231.0" y1="331.8" x2="232.4" y2="332.2" stroke-width="0.85"/><line x1="231.0" y1="331.8" x2="231.6" y2="333.1" stroke-width="0.85"/></g>
<path d="M219.0,331.0 L206.5,343.0" fill="none" stroke="#707070" stroke-width="1.7"/>
<path d="M219.0,331.0 L206.5,343.0" fill="none" stroke="#c8c4c0" stroke-width="0.6"/>
<g stroke="#666666" stroke-linecap="round"><line x1="230.7" y1="303.3" x2="224.2" y2="300.2" stroke-width="1.40"/><line x1="224.2" y1="300.2" x2="219.3" y2="300.2" stroke-width="1.20"/><line x1="219.3" y1="300.2" x2="216.3" y2="301.6" stroke-width="1.00"/><line x1="216.3" y1="301.6" x2="214.9" y2="302.8" stroke-width="0.85"/><line x1="216.3" y1="301.6" x2="214.4" y2="301.7" stroke-width="0.85"/><line x1="219.3" y1="300.2" x2="216.3" y2="299.2" stroke-width="1.00"/><line x1="216.3" y1="299.2" x2="214.3" y2="299.5" stroke-width="0.85"/><line x1="216.3" y1="299.2" x2="214.9" y2="298.0" stroke-width="0.85"/><line x1="224.2" y1="300.2" x2="220.6" y2="297.0" stroke-width="1.20"/><line x1="220.6" y1="297.0" x2="217.3" y2="296.0" stroke-width="1.00"/><line x1="217.3" y1="296.0" x2="215.3" y2="296.1" stroke-width="0.85"/><line x1="217.3" y1="296.0" x2="215.7" y2="294.3" stroke-width="0.85"/><line x1="220.6" y1="297.0" x2="219.7" y2="294.2" stroke-width="1.00"/><line x1="219.7" y1="294.2" x2="218.8" y2="292.8" stroke-width="0.85"/><line x1="219.7" y1="294.2" x2="220.2" y2="292.2" stroke-width="0.85"/><line x1="230.7" y1="303.3" x2="229.4" y2="296.2" stroke-width="1.40"/><line x1="229.4" y1="296.2" x2="226.7" y2="292.1" stroke-width="1.20"/><line x1="226.7" y1="292.1" x2="223.6" y2="290.4" stroke-width="1.00"/><line x1="223.6" y1="290.4" x2="221.7" y2="290.1" stroke-width="0.85"/><line x1="223.6" y1="290.4" x2="222.1" y2="288.6" stroke-width="0.85"/><line x1="226.7" y1="292.1" x2="225.7" y2="289.4" stroke-width="1.00"/><line x1="225.7" y1="289.4" x2="224.4" y2="287.7" stroke-width="0.85"/><line x1="225.7" y1="289.4" x2="225.8" y2="287.5" stroke-width="0.85"/><line x1="229.4" y1="296.2" x2="230.6" y2="291.7" stroke-width="1.20"/><line x1="230.6" y1="291.7" x2="229.9" y2="289.2" stroke-width="1.00"/><line x1="229.9" y1="289.2" x2="228.7" y2="288.0" stroke-width="0.85"/><line x1="229.9" y1="289.2" x2="230.0" y2="287.5" stroke-width="0.85"/><line x1="230.6" y1="291.7" x2="232.1" y2="289.5" stroke-width="1.00"/><line x1="232.1" y1="289.5" x2="232.7" y2="287.6" stroke-width="0.85"/><line x1="232.1" y1="289.5" x2="233.4" y2="288.8" stroke-width="0.85"/><line x1="230.7" y1="303.3" x2="234.6" y2="297.7" stroke-width="1.40"/><line x1="234.6" y1="297.7" x2="236.2" y2="293.7" stroke-width="1.20"/><line x1="236.2" y1="293.7" x2="235.8" y2="291.0" stroke-width="1.00"/><line x1="235.8" y1="291.0" x2="234.8" y2="289.5" stroke-width="0.85"/><line x1="235.8" y1="291.0" x2="236.1" y2="289.2" stroke-width="0.85"/><line x1="236.2" y1="293.7" x2="238.1" y2="292.2" stroke-width="1.00"/><line x1="238.1" y1="292.2" x2="239.0" y2="290.9" stroke-width="0.85"/><line x1="238.1" y1="292.2" x2="239.5" y2="291.8" stroke-width="0.85"/><line x1="234.6" y1="297.7" x2="237.6" y2="295.6" stroke-width="1.20"/><line x1="237.6" y1="295.6" x2="239.0" y2="293.4" stroke-width="1.00"/><line x1="239.0" y1="293.4" x2="239.1" y2="291.9" stroke-width="0.85"/><line x1="239.0" y1="293.4" x2="240.4" y2="292.6" stroke-width="0.85"/><line x1="237.6" y1="295.6" x2="240.2" y2="295.6" stroke-width="1.00"/><line x1="240.2" y1="295.6" x2="242.0" y2="295.1" stroke-width="0.85"/><line x1="240.2" y1="295.6" x2="241.9" y2="296.3" stroke-width="0.85"/></g>
<g stroke="#666666" stroke-linecap="round"><line x1="236.0" y1="336.0" x2="237.9" y2="340.1" stroke-width="1.00"/><line x1="237.9" y1="340.1" x2="240.3" y2="342.3" stroke-width="0.85"/><line x1="237.9" y1="340.1" x2="237.6" y2="343.2" stroke-width="0.85"/><line x1="236.0" y1="336.0" x2="233.4" y2="339.7" stroke-width="1.00"/><line x1="233.4" y1="339.7" x2="233.3" y2="342.8" stroke-width="0.85"/><line x1="233.4" y1="339.7" x2="231.0" y2="341.0" stroke-width="0.85"/></g>
<path d="M230.7,303.3 L234.5,319.5 L236.0,336.0" fill="none" stroke="#707070" stroke-width="1.7"/>
<path d="M230.7,303.3 L234.5,319.5 L236.0,336.0" fill="none" stroke="#c8c4c0" stroke-width="0.6"/>
<g stroke="#666666" stroke-linecap="round"><line x1="256.7" y1="320.0" x2="253.5" y2="314.5" stroke-width="1.40"/><line x1="253.5" y1="314.5" x2="250.1" y2="312.6" stroke-width="1.20"/><line x1="250.1" y1="312.6" x2="247.8" y2="312.3" stroke-width="1.00"/><line x1="247.8" y1="312.3" x2="246.5" y2="312.8" stroke-width="0.85"/><line x1="247.8" y1="312.3" x2="246.6" y2="311.4" stroke-width="0.85"/><line x1="250.1" y1="312.6" x2="248.7" y2="310.6" stroke-width="1.00"/><line x1="248.7" y1="310.6" x2="247.3" y2="309.8" stroke-width="0.85"/><line x1="248.7" y1="310.6" x2="248.7" y2="308.8" stroke-width="0.85"/><line x1="253.5" y1="314.5" x2="252.6" y2="310.4" stroke-width="1.20"/><line x1="252.6" y1="310.4" x2="250.8" y2="308.4" stroke-width="1.00"/><line x1="250.8" y1="308.4" x2="249.3" y2="307.8" stroke-width="0.85"/><line x1="250.8" y1="308.4" x2="250.1" y2="307.1" stroke-width="0.85"/><line x1="252.6" y1="310.4" x2="253.5" y2="307.8" stroke-width="1.00"/><line x1="253.5" y1="307.8" x2="253.5" y2="306.0" stroke-width="0.85"/><line x1="253.5" y1="307.8" x2="254.9" y2="306.6" stroke-width="0.85"/><line x1="256.7" y1="320.0" x2="259.0" y2="313.6" stroke-width="1.40"/><line x1="259.0" y1="313.6" x2="258.0" y2="309.2" stroke-width="1.20"/><line x1="258.0" y1="309.2" x2="255.7" y2="307.0" stroke-width="1.00"/><line x1="255.7" y1="307.0" x2="254.0" y2="306.2" stroke-width="0.85"/><line x1="255.7" y1="307.0" x2="254.8" y2="305.0" stroke-width="0.85"/><line x1="258.0" y1="309.2" x2="258.5" y2="306.0" stroke-width="1.00"/><line x1="258.5" y1="306.0" x2="257.9" y2="304.0" stroke-width="0.85"/><line x1="258.5" y1="306.0" x2="259.4" y2="304.3" stroke-width="0.85"/><line x1="259.0" y1="313.6" x2="262.4" y2="310.7" stroke-width="1.20"/><line x1="262.4" y1="310.7" x2="263.7" y2="308.4" stroke-width="1.00"/><line x1="263.7" y1="308.4" x2="263.9" y2="307.0" stroke-width="0.85"/><line x1="263.7" y1="308.4" x2="265.0" y2="307.1" stroke-width="0.85"/><line x1="262.4" y1="310.7" x2="265.4" y2="309.6" stroke-width="1.00"/><line x1="265.4" y1="309.6" x2="266.8" y2="307.7" stroke-width="0.85"/><line x1="265.4" y1="309.6" x2="267.1" y2="310.0" stroke-width="0.85"/><line x1="256.7" y1="320.0" x2="262.9" y2="317.1" stroke-width="1.40"/><line x1="262.9" y1="317.1" x2="265.4" y2="313.6" stroke-width="1.20"/><line x1="265.4" y1="313.6" x2="265.6" y2="310.9" stroke-width="1.00"/><line x1="265.6" y1="310.9" x2="265.0" y2="309.2" stroke-width="0.85"/><line x1="265.6" y1="310.9" x2="266.8" y2="309.3" stroke-width="0.85"/><line x1="265.4" y1="313.6" x2="267.6" y2="312.6" stroke-width="1.00"/><line x1="267.6" y1="312.6" x2="268.6" y2="311.6" stroke-width="0.85"/><line x1="267.6" y1="312.6" x2="269.2" y2="312.5" stroke-width="0.85"/><line x1="262.9" y1="317.1" x2="267.1" y2="317.0" stroke-width="1.20"/><line x1="267.1" y1="317.0" x2="269.4" y2="315.7" stroke-width="1.00"/><line x1="269.4" y1="315.7" x2="270.4" y2="314.3" stroke-width="0.85"/><line x1="269.4" y1="315.7" x2="271.2" y2="315.6" stroke-width="0.85"/><line x1="267.1" y1="317.0" x2="269.7" y2="318.4" stroke-width="1.00"/><line x1="269.7" y1="318.4" x2="271.8" y2="318.5" stroke-width="0.85"/><line x1="269.7" y1="318.4" x2="270.8" y2="320.0" stroke-width="0.85"/></g>
<g stroke="#666666" stroke-linecap="round"><line x1="238.0" y1="350.0" x2="233.6" y2="350.8" stroke-width="1.00"/><line x1="233.6" y1="350.8" x2="231.2" y2="352.7" stroke-width="0.85"/><line x1="233.6" y1="350.8" x2="230.8" y2="349.9" stroke-width="0.85"/><line x1="238.0" y1="350.0" x2="235.1" y2="346.6" stroke-width="1.00"/><line x1="235.1" y1="346.6" x2="232.7" y2="345.5" stroke-width="0.85"/><line x1="235.1" y1="346.6" x2="234.4" y2="343.3" stroke-width="0.85"/></g>
<path d="M256.7,320.0 L247.6,334.9 L240.0,345.0 L238.0,354.0" fill="none" stroke="#707070" stroke-width="1.7"/>
<path d="M256.7,320.0 L247.6,334.9 L240.0,345.0 L238.0,354.0" fill="none" stroke="#c8c4c0" stroke-width="0.6"/>
<g stroke="#666666" stroke-linecap="round"><line x1="255.2" y1="353.9" x2="255.8" y2="347.1" stroke-width="1.40"/><line x1="255.8" y1="347.1" x2="254.6" y2="343.6" stroke-width="1.20"/><line x1="254.6" y1="343.6" x2="253.1" y2="341.8" stroke-width="1.00"/><line x1="253.1" y1="341.8" x2="251.7" y2="341.3" stroke-width="0.85"/><line x1="253.1" y1="341.8" x2="252.6" y2="340.6" stroke-width="0.85"/><line x1="254.6" y1="343.6" x2="254.8" y2="341.1" stroke-width="1.00"/><line x1="254.8" y1="341.1" x2="254.2" y2="339.7" stroke-width="0.85"/><line x1="254.8" y1="341.1" x2="255.5" y2="339.8" stroke-width="0.85"/><line x1="255.8" y1="347.1" x2="258.6" y2="343.3" stroke-width="1.20"/><line x1="258.6" y1="343.3" x2="259.3" y2="340.0" stroke-width="1.00"/><line x1="259.3" y1="340.0" x2="258.9" y2="338.1" stroke-width="0.85"/><line x1="259.3" y1="340.0" x2="260.4" y2="338.4" stroke-width="0.85"/><line x1="258.6" y1="343.3" x2="261.2" y2="341.8" stroke-width="1.00"/><line x1="261.2" y1="341.8" x2="262.4" y2="340.5" stroke-width="0.85"/><line x1="261.2" y1="341.8" x2="263.2" y2="341.7" stroke-width="0.85"/><line x1="255.2" y1="353.9" x2="260.8" y2="350.0" stroke-width="1.40"/><line x1="260.8" y1="350.0" x2="262.6" y2="346.2" stroke-width="1.20"/><line x1="262.6" y1="346.2" x2="263.0" y2="343.9" stroke-width="1.00"/><line x1="263.0" y1="343.9" x2="262.8" y2="342.5" stroke-width="0.85"/><line x1="263.0" y1="343.9" x2="263.8" y2="342.8" stroke-width="0.85"/><line x1="262.6" y1="346.2" x2="264.4" y2="344.7" stroke-width="1.00"/><line x1="264.4" y1="344.7" x2="265.1" y2="343.6" stroke-width="0.85"/><line x1="264.4" y1="344.7" x2="265.9" y2="344.1" stroke-width="0.85"/><line x1="260.8" y1="350.0" x2="264.8" y2="349.7" stroke-width="1.20"/><line x1="264.8" y1="349.7" x2="267.3" y2="348.4" stroke-width="1.00"/><line x1="267.3" y1="348.4" x2="268.4" y2="346.9" stroke-width="0.85"/><line x1="267.3" y1="348.4" x2="269.3" y2="348.3" stroke-width="0.85"/><line x1="264.8" y1="349.7" x2="267.5" y2="350.8" stroke-width="1.00"/><line x1="267.5" y1="350.8" x2="269.3" y2="350.9" stroke-width="0.85"/><line x1="267.5" y1="350.8" x2="268.9" y2="352.1" stroke-width="0.85"/><line x1="255.2" y1="353.9" x2="261.4" y2="356.8" stroke-width="1.40"/><line x1="261.4" y1="356.8" x2="265.4" y2="356.9" stroke-width="1.20"/><line x1="265.4" y1="356.9" x2="267.7" y2="356.0" stroke-width="1.00"/><line x1="267.7" y1="356.0" x2="268.6" y2="354.9" stroke-width="0.85"/><line x1="267.7" y1="356.0" x2="269.4" y2="356.0" stroke-width="0.85"/><line x1="265.4" y1="356.9" x2="267.9" y2="358.1" stroke-width="1.00"/><line x1="267.9" y1="358.1" x2="269.9" y2="358.0" stroke-width="0.85"/><line x1="267.9" y1="358.1" x2="268.9" y2="359.5" stroke-width="0.85"/><line x1="261.4" y1="356.8" x2="264.4" y2="360.0" stroke-width="1.20"/><line x1="264.4" y1="360.0" x2="267.3" y2="361.2" stroke-width="1.00"/><line x1="267.3" y1="361.2" x2="269.1" y2="361.3" stroke-width="0.85"/><line x1="267.3" y1="361.2" x2="268.7" y2="362.9" stroke-width="0.85"/><line x1="264.4" y1="360.0" x2="265.4" y2="362.2" stroke-width="1.00"/><line x1="265.4" y1="362.2" x2="266.4" y2="363.1" stroke-width="0.85"/><line x1="265.4" y1="362.2" x2="265.3" y2="363.6" stroke-width="0.85"/></g>
<g stroke="#666666" stroke-linecap="round"><line x1="224.0" y1="366.0" x2="224.0" y2="370.5" stroke-width="1.00"/><line x1="224.0" y1="370.5" x2="225.3" y2="372.8" stroke-width="0.85"/><line x1="224.0" y1="370.5" x2="222.6" y2="373.3" stroke-width="0.85"/><line x1="224.0" y1="366.0" x2="220.1" y2="368.2" stroke-width="1.00"/><line x1="220.1" y1="368.2" x2="218.5" y2="370.5" stroke-width="0.85"/><line x1="220.1" y1="368.2" x2="216.8" y2="368.4" stroke-width="0.85"/></g>
<g stroke="#666666" stroke-linecap="round"><line x1="219.0" y1="366.0" x2="214.6" y2="366.8" stroke-width="1.00"/><line x1="214.6" y1="366.8" x2="212.4" y2="368.7" stroke-width="0.85"/><line x1="214.6" y1="366.8" x2="211.8" y2="365.6" stroke-width="0.85"/><line x1="219.0" y1="366.0" x2="216.1" y2="362.6" stroke-width="1.00"/><line x1="216.1" y1="362.6" x2="213.1" y2="361.7" stroke-width="0.85"/><line x1="216.1" y1="362.6" x2="215.9" y2="359.4" stroke-width="0.85"/></g>
<path d="M255.2,353.9 L241.0,361.5 L226.0,365.0 L218.0,366.0" fill="none" stroke="#707070" stroke-width="1.7"/>
<path d="M255.2,353.9 L241.0,361.5 L226.0,365.0 L218.0,366.0" fill="none" stroke="#c8c4c0" stroke-width="0.6"/>
<g stroke="#666666" stroke-linecap="round"><line x1="269.3" y1="373.9" x2="274.5" y2="369.5" stroke-width="1.40"/><line x1="274.5" y1="369.5" x2="276.8" y2="365.2" stroke-width="1.20"/><line x1="276.8" y1="365.2" x2="276.8" y2="362.1" stroke-width="1.00"/><line x1="276.8" y1="362.1" x2="276.1" y2="360.3" stroke-width="0.85"/><line x1="276.8" y1="362.1" x2="277.6" y2="360.5" stroke-width="0.85"/><line x1="276.8" y1="365.2" x2="279.8" y2="363.4" stroke-width="1.00"/><line x1="279.8" y1="363.4" x2="280.9" y2="361.6" stroke-width="0.85"/><line x1="279.8" y1="363.4" x2="281.9" y2="363.1" stroke-width="0.85"/><line x1="274.5" y1="369.5" x2="278.3" y2="369.1" stroke-width="1.20"/><line x1="278.3" y1="369.1" x2="280.4" y2="367.7" stroke-width="1.00"/><line x1="280.4" y1="367.7" x2="280.9" y2="366.4" stroke-width="0.85"/><line x1="280.4" y1="367.7" x2="282.0" y2="367.5" stroke-width="0.85"/><line x1="278.3" y1="369.1" x2="280.2" y2="369.9" stroke-width="1.00"/><line x1="280.2" y1="369.9" x2="281.4" y2="369.8" stroke-width="0.85"/><line x1="280.2" y1="369.9" x2="281.3" y2="370.7" stroke-width="0.85"/><line x1="269.3" y1="373.9" x2="276.0" y2="375.1" stroke-width="1.40"/><line x1="276.0" y1="375.1" x2="279.7" y2="373.8" stroke-width="1.20"/><line x1="279.7" y1="373.8" x2="281.6" y2="371.9" stroke-width="1.00"/><line x1="281.6" y1="371.9" x2="282.4" y2="370.1" stroke-width="0.85"/><line x1="281.6" y1="371.9" x2="283.1" y2="371.2" stroke-width="0.85"/><line x1="279.7" y1="373.8" x2="282.5" y2="374.2" stroke-width="1.00"/><line x1="282.5" y1="374.2" x2="284.5" y2="373.8" stroke-width="0.85"/><line x1="282.5" y1="374.2" x2="284.0" y2="375.1" stroke-width="0.85"/><line x1="276.0" y1="375.1" x2="280.3" y2="377.5" stroke-width="1.20"/><line x1="280.3" y1="377.5" x2="283.5" y2="377.5" stroke-width="1.00"/><line x1="283.5" y1="377.5" x2="285.6" y2="376.4" stroke-width="0.85"/><line x1="283.5" y1="377.5" x2="285.2" y2="378.3" stroke-width="0.85"/><line x1="280.3" y1="377.5" x2="282.4" y2="379.8" stroke-width="1.00"/><line x1="282.4" y1="379.8" x2="284.2" y2="380.9" stroke-width="0.85"/><line x1="282.4" y1="379.8" x2="282.9" y2="381.5" stroke-width="0.85"/><line x1="269.3" y1="373.9" x2="272.9" y2="380.2" stroke-width="1.40"/><line x1="272.9" y1="380.2" x2="276.3" y2="382.7" stroke-width="1.20"/><line x1="276.3" y1="382.7" x2="279.2" y2="383.2" stroke-width="1.00"/><line x1="279.2" y1="383.2" x2="280.9" y2="382.5" stroke-width="0.85"/><line x1="279.2" y1="383.2" x2="280.8" y2="384.3" stroke-width="0.85"/><line x1="276.3" y1="382.7" x2="278.0" y2="385.3" stroke-width="1.00"/><line x1="278.0" y1="385.3" x2="279.4" y2="386.2" stroke-width="0.85"/><line x1="278.0" y1="385.3" x2="278.3" y2="387.3" stroke-width="0.85"/><line x1="272.9" y1="380.2" x2="274.1" y2="384.6" stroke-width="1.20"/><line x1="274.1" y1="384.6" x2="275.7" y2="387.2" stroke-width="1.00"/><line x1="275.7" y1="387.2" x2="277.6" y2="388.1" stroke-width="0.85"/><line x1="275.7" y1="387.2" x2="275.9" y2="389.3" stroke-width="0.85"/><line x1="274.1" y1="384.6" x2="273.9" y2="387.8" stroke-width="1.00"/><line x1="273.9" y1="387.8" x2="274.5" y2="389.8" stroke-width="0.85"/><line x1="273.9" y1="387.8" x2="273.1" y2="390.0" stroke-width="0.85"/></g>
<g stroke="#666666" stroke-linecap="round"><line x1="232.0" y1="370.0" x2="231.2" y2="374.4" stroke-width="1.00"/><line x1="231.2" y1="374.4" x2="232.0" y2="376.8" stroke-width="0.85"/><line x1="231.2" y1="374.4" x2="229.6" y2="376.8" stroke-width="0.85"/><line x1="232.0" y1="370.0" x2="227.8" y2="371.5" stroke-width="1.00"/><line x1="227.8" y1="371.5" x2="225.9" y2="374.0" stroke-width="0.85"/><line x1="227.8" y1="371.5" x2="225.0" y2="371.3" stroke-width="0.85"/></g>
<g stroke="#666666" stroke-linecap="round"><line x1="226.0" y1="368.0" x2="221.8" y2="369.5" stroke-width="1.00"/><line x1="221.8" y1="369.5" x2="219.4" y2="371.6" stroke-width="0.85"/><line x1="221.8" y1="369.5" x2="219.4" y2="369.1" stroke-width="0.85"/><line x1="226.0" y1="368.0" x2="222.6" y2="365.1" stroke-width="1.00"/><line x1="222.6" y1="365.1" x2="220.0" y2="364.4" stroke-width="0.85"/><line x1="222.6" y1="365.1" x2="221.5" y2="362.5" stroke-width="0.85"/></g>
<path d="M269.3,373.9 L251.9,373.4 L235.0,371.0 L226.0,368.0" fill="none" stroke="#707070" stroke-width="1.7"/>
<path d="M269.3,373.9 L251.9,373.4 L235.0,371.0 L226.0,368.0" fill="none" stroke="#c8c4c0" stroke-width="0.6"/>
<ellipse cx="176.0" cy="335.0" rx="4.3" ry="4.6" fill="#58b6dc"/>
<path d="M168.4,320.6 l-2.6,1.8 l2.6,-3.6 l2.6,1.8 Z" fill="#58b6dc"/>
<circle cx="168.4" cy="320.0" r="1.9" fill="#58b6dc"/>
<ellipse cx="195.0" cy="319.0" rx="4.2" ry="4.6" fill="#80c47c"/>
<path d="M196.3,302.6 l-2.6,1.8 l2.6,-3.6 l2.6,1.8 Z" fill="#80c47c"/>
<circle cx="196.3" cy="302.0" r="1.9" fill="#80c47c"/>
<ellipse cx="206.5" cy="343.0" rx="4.3" ry="4.3" fill="#c5b69f"/>
<path d="M219.0,331.6 l-2.6,1.8 l2.6,-3.6 l2.6,1.8 Z" fill="#c5b69f"/>
<circle cx="219.0" cy="331.0" r="1.9" fill="#c5b69f"/>
<ellipse cx="234.5" cy="319.5" rx="4.4" ry="4.8" fill="#58b6dc"/>
<path d="M230.7,303.9 l-2.6,1.8 l2.6,-3.6 l2.6,1.8 Z" fill="#58b6dc"/>
<circle cx="230.7" cy="303.3" r="1.9" fill="#58b6dc"/>
<ellipse cx="247.6" cy="334.9" rx="3.9" ry="4.4" fill="#e2452f"/>
<path d="M256.7,320.6 l-2.6,1.8 l2.6,-3.6 l2.6,1.8 Z" fill="#e2452f"/>
<circle cx="256.7" cy="320.0" r="1.9" fill="#e2452f"/>
<ellipse cx="241.0" cy="361.5" rx="4.5" ry="4.3" fill="#80c47c"/>
<path d="M255.2,354.5 l-2.6,1.8 l2.6,-3.6 l2.6,1.8 Z" fill="#80c47c"/>
<circle cx="255.2" cy="353.9" r="1.9" fill="#80c47c"/>
<ellipse cx="251.9" cy="373.4" rx="4.9" ry="3.9" fill="#58b6dc"/>
<path d="M269.3,374.5 l-2.6,1.8 l2.6,-3.6 l2.6,1.8 Z" fill="#58b6dc"/>
<circle cx="269.3" cy="373.9" r="1.9" fill="#58b6dc"/>
<!-- cells -->
<use href="#cellB" transform="translate(381.93,296.49) scale(0.9681,0.9837)"/>
<use href="#cellB" transform="translate(419.28,285.23) scale(0.9710,0.9592)"/>
<use href="#cellB" transform="translate(410.54,312.49) scale(0.9797,0.9714)"/>
<use href="#cellB" transform="translate(416.43,341.39) scale(0.9652,0.9714)"/>
<use href="#cellR" transform="translate(488.00,284.66) scale(0.9159,0.9102)"/>
<use href="#cellR" transform="translate(501.30,312.55) scale(0.9130,0.8980)"/>
<use href="#cellR" transform="translate(454.11,324.55) scale(0.9275,0.9061)"/>
<use href="#cellR" transform="translate(467.40,351.95) scale(0.9159,0.9061)"/>
<use href="#cellT" transform="translate(531.60,350.45) scale(0.9251,0.9231)"/>
<use href="#cellT" transform="translate(507.41,371.15) scale(0.9337,0.9150)"/>
<use href="#cellT" transform="translate(545.00,377.74) scale(0.9280,0.8988)"/>
<use href="#cellG" transform="translate(380.49,382.83) scale(0.9078,0.8826)"/>
<use href="#cellG" transform="translate(418.89,378.03) scale(0.9078,0.8907)"/>
<use href="#cellG" transform="translate(454.98,395.94) scale(0.8963,0.8947)"/>
<use href="#cellG" transform="translate(404.68,404.93) scale(0.8991,0.8826)"/>
<use href="#cellG" transform="translate(434.89,419.44) scale(0.9078,0.8947)"/>

</svg>
</body></html>
